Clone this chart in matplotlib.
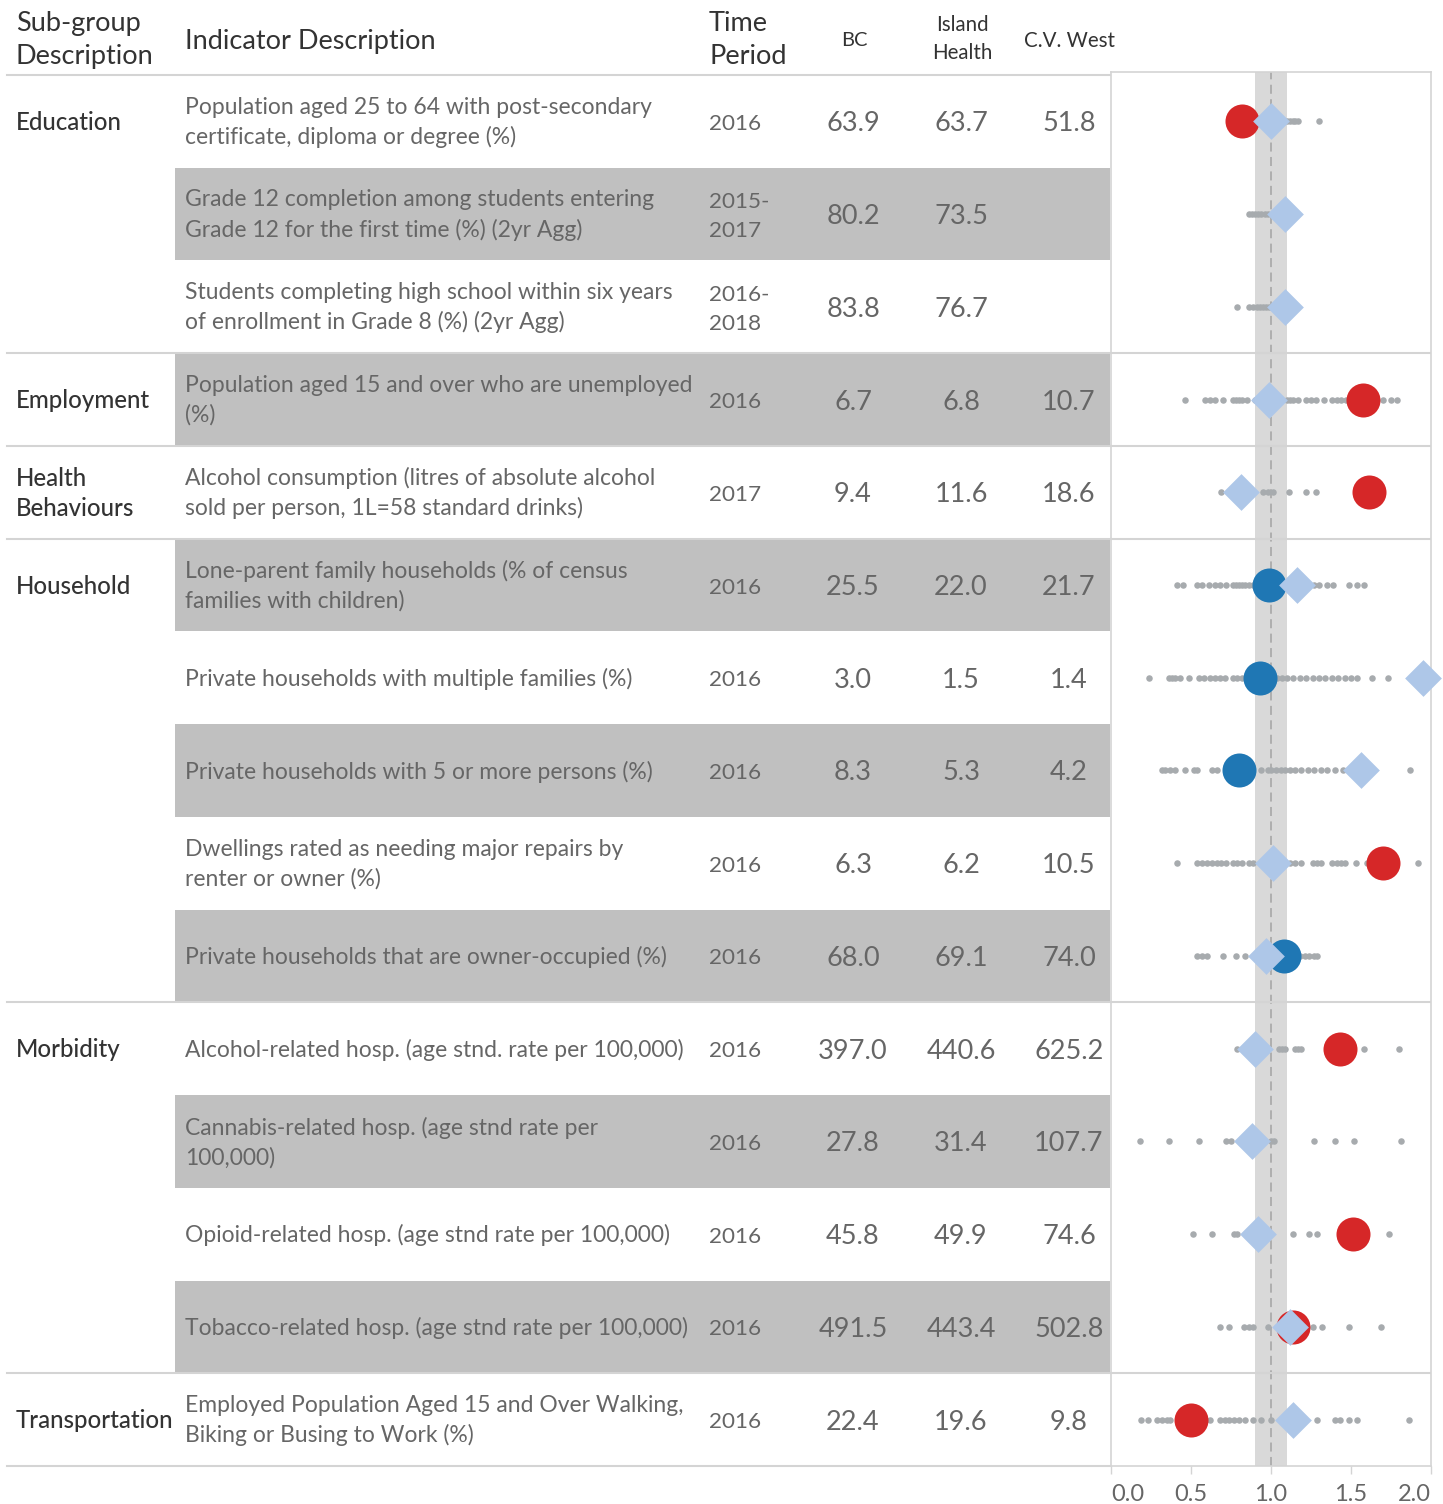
import numpy as np
import matplotlib
matplotlib.use("Agg")
import matplotlib.pyplot as plt

# ---------------- data ----------------
section_names = ["Education", "Employment", "Health\nBehaviours", "Household", "Morbidity", "Transportation"]
section_sizes = [3, 1, 1, 5, 4, 1]

indicators = [
    "Population aged 25 to 64 with post-secondary\ncertificate, diploma or degree (%)",
    "Grade 12 completion among students entering\nGrade 12 for the first time (%) (2yr Agg)",
    "Students completing high school within six years\nof enrollment in Grade 8 (%) (2yr Agg)",
    "Population aged 15 and over who are unemployed\n(%)",
    "Alcohol consumption (litres of absolute alcohol\nsold per person, 1L=58 standard drinks)",
    "Lone-parent family households (% of census\nfamilies with children)",
    "Private households with multiple families (%)",
    "Private households with 5 or more persons (%)",
    "Dwellings rated as needing major repairs by\nrenter or owner (%)",
    "Private households that are owner-occupied (%)",
    "Alcohol-related hosp. (age stnd. rate per 100,000)",
    "Cannabis-related hosp. (age stnd rate per\n100,000)",
    "Opioid-related hosp. (age stnd rate per 100,000)",
    "Tobacco-related hosp. (age stnd rate per 100,000)",
    "Employed Population Aged 15 and Over Walking,\nBiking or Busing to Work (%)",
]
periods = ["2016", "2015-\n2017", "2016-\n2018", "2016", "2017", "2016", "2016", "2016",
           "2016", "2016", "2016", "2016", "2016", "2016", "2016"]
bc_vals = [63.9, 80.2, 83.8, 6.7, 9.4, 25.5, 3.0, 8.3, 6.3, 68.0, 397.0, 27.8, 45.8, 491.5, 22.4]
ih_vals = [63.7, 73.5, 76.7, 6.8, 11.6, 22.0, 1.5, 5.3, 6.2, 69.1, 440.6, 31.4, 49.9, 443.4, 19.6]
cvw_vals = [51.8, np.nan, np.nan, 10.7, 18.6, 21.7, 1.4, 4.2, 10.5, 74.0, 625.2, 107.7, 74.6, 502.8, 9.8]

# ratios shown in the dot plot (relative to BC = 1.0)
ih_ratio = [1.00, 1.09, 1.09, 0.99, 0.81, 1.16, 1.95, 1.56, 1.01, 0.97, 0.90, 0.88, 0.92, 1.12, 1.14]
cvw_ratio = [0.82, np.nan, np.nan, 1.575, 1.61, 0.99, 0.93, 0.80, 1.70, 1.08, 1.43, np.nan, 1.51, 1.14, 0.50]
cvw_status = ["worse", None, None, "worse", "worse", "better", "better", "better", "worse",
              "better", "worse", None, "worse", "worse", "worse"]

other_ratios = [
    [0.85, 0.9, 0.95, 1.1, 1.12, 1.14, 1.15, 1.17, 1.3],
    [0.86, 0.88, 0.9, 0.92, 0.94, 0.96, 0.98],
    [0.79, 0.86, 0.89, 0.91, 0.93, 0.95, 0.97, 0.99],
    [0.46, 0.59, 0.62, 0.65, 0.70, 0.76, 0.78, 0.80, 0.82, 0.85, 0.9, 0.95, 1.0, 1.05, 1.10, 1.12,
     1.14, 1.17, 1.22, 1.25, 1.28, 1.33, 1.38, 1.41, 1.44, 1.47, 1.55, 1.70, 1.75, 1.79],
    [0.69, 0.75, 0.95, 0.98, 1.01, 1.11, 1.22, 1.28],
    [0.41, 0.45, 0.54, 0.57, 0.61, 0.65, 0.68, 0.72, 0.76, 0.78, 0.80, 0.82, 0.84, 0.86, 0.89, 0.93,
     1.05, 1.27, 1.30, 1.35, 1.39, 1.49, 1.54, 1.58],
    [0.24, 0.36, 0.38, 0.40, 0.43, 0.49, 0.55, 0.58, 0.62, 0.65, 0.68, 0.71, 0.76, 0.79, 0.82, 0.88,
     1.04, 1.07, 1.10, 1.14, 1.18, 1.22, 1.26, 1.30, 1.34, 1.38, 1.42, 1.46, 1.50, 1.54, 1.63, 1.73],
    [0.32, 0.34, 0.37, 0.40, 0.46, 0.52, 0.54, 0.63, 0.66, 0.72, 0.94, 0.98, 1.0, 1.03, 1.06, 1.09,
     1.12, 1.15, 1.19, 1.23, 1.27, 1.31, 1.35, 1.40, 1.45, 1.87],
    [0.41, 0.54, 0.57, 0.60, 0.63, 0.66, 0.69, 0.72, 0.76, 0.79, 0.82, 0.86, 0.89, 1.12, 1.15, 1.19,
     1.26, 1.29, 1.31, 1.38, 1.41, 1.44, 1.46, 1.53, 1.60, 1.92],
    [0.54, 0.57, 0.60, 0.70, 0.78, 0.84, 0.93, 1.0, 1.05, 1.18, 1.21, 1.24, 1.27, 1.29],
    [0.79, 0.88, 0.96, 1.05, 1.07, 1.09, 1.15, 1.17, 1.19, 1.58, 1.80],
    [0.18, 0.36, 0.55, 0.72, 0.75, 1.0, 1.02, 1.27, 1.40, 1.52, 1.81],
    [0.51, 0.63, 0.77, 0.79, 1.14, 1.24, 1.29, 1.74],
    [0.68, 0.74, 0.83, 0.86, 0.89, 0.98, 1.05, 1.26, 1.32, 1.49, 1.69],
    [0.19, 0.23, 0.29, 0.32, 0.35, 0.37, 0.55, 0.62, 0.68, 0.71, 0.74, 0.77, 0.80, 0.84, 0.89, 0.94,
     1.0, 1.29, 1.40, 1.43, 1.49, 1.54, 1.86],
]
x_ticks = [0.0, 0.5, 1.0, 1.5, 2.0]
band = (0.9, 1.1)

# ---------------- layout ----------------
W, H = 1443, 1504
FONT = "Lato"
plt.rcParams["font.family"] = [FONT, "DejaVu Sans"]

fig = plt.figure(figsize=(W / 100, H / 100), dpi=100)
ax = fig.add_axes([0, 0, 1, 1])
ax.set_xlim(0, W)
ax.set_ylim(H, 0)
ax.axis("off")

n = len(indicators)
top, bottom = 75.0, 1466.0
rh = (bottom - top) / n
row_c = [top + (i + 0.5) * rh for i in range(n)]
line_col = "#d4d4d4"
shade = "#c0c0c0"
txt_dark = "#333333"
txt_mid = "#666666"

# shading
for i in range(n):
    if i % 2 == 1:
        ax.add_patch(plt.Rectangle((175, top + i * rh), 1110 - 175, rh, color=shade, lw=0, zorder=0))

# horizontal lines (header, section dividers, bottom)
bounds = np.cumsum([0] + section_sizes)
ax.plot([7, 1110], [top, top], color=line_col, lw=1.5, zorder=1)
for b in bounds[1:]:
    y = top + b * rh
    ax.plot([7, 1110], [y, y], color=line_col, lw=1.5, zorder=1)

# headers
ax.text(16, 40, "Sub-group\nDescription", ha="left", va="center", fontsize=19.5, color=txt_dark, linespacing=1.42)
ax.text(185, 41, "Indicator Description", ha="left", va="center", fontsize=19.5, color=txt_dark)
ax.text(709, 40, "Time\nPeriod", ha="left", va="center", fontsize=19.5, color=txt_dark, linespacing=1.42)
ax.text(854, 41, "BC", ha="center", va="center", fontsize=14.5, color=txt_dark)
ax.text(962, 39, "Island\nHealth", ha="center", va="center", fontsize=14.8, color=txt_dark, linespacing=1.45)
ax.text(1070, 41, "C.V. West", ha="center", va="center", fontsize=14.8, color=txt_dark)

# sub-group labels
for name, b in zip(section_names, bounds[:-1]):
    ax.text(16, row_c[b] + 1, name, ha="left", va="center", fontsize=17.3, color=txt_dark,
            fontweight="medium", linespacing=1.38)

def fmt(v):
    return "" if np.isnan(v) else f"{v:.1f}"

for i in range(n):
    y = row_c[i]
    ax.text(185, y + 1, indicators[i], ha="left", va="center", fontsize=16.5, color=txt_mid, linespacing=1.45)
    ax.text(709, y + 2.5, periods[i], ha="left", va="center", fontsize=16.2, color=txt_mid, linespacing=1.6)
    ax.text(853, y + 2.5, fmt(bc_vals[i]), ha="center", va="center", fontsize=19.5, color=txt_mid)
    ax.text(961, y + 2.5, fmt(ih_vals[i]), ha="center", va="center", fontsize=19.5, color=txt_mid)
    ax.text(1069, y + 2.5, fmt(cvw_vals[i]), ha="center", va="center", fontsize=19.5, color=txt_mid)

# ---------------- dot plot ----------------
px0, px1, py0 = 1111, 1431, 72
axp = fig.add_axes([px0 / W, 1 - bottom / H, (px1 - px0) / W, (bottom - py0) / H])
axp.set_xlim(x_ticks[0], x_ticks[-1])
axp.set_ylim(bottom, py0)
axp.set_facecolor("none")
for s in axp.spines.values():
    s.set_color(line_col)
    s.set_linewidth(1.2)
axp.set_yticks([])
axp.set_xticks(x_ticks)
labels = axp.set_xticklabels([f"{t:.1f}" for t in x_ticks])
labels[0].set_horizontalalignment("left")
labels[-1].set_horizontalalignment("right")
axp.tick_params(axis="x", colors=line_col, length=6, width=1, labelcolor=txt_mid, labelsize=17, pad=7)

axp.axvspan(band[0], band[1], color="#d9d9d9", lw=0, zorder=0)
axp.axvline(1.0, color="#ababab", lw=1.3, ls=(0, (5, 3)), zorder=0.5)
for b in bounds[1:-1]:
    axp.axhline(top + b * rh, color=line_col, lw=1.5, zorder=0.6)

gx = np.concatenate([np.array(r) for r in other_ratios])
gy = np.concatenate([np.full(len(r), row_c[i]) for i, r in enumerate(other_ratios)])
axp.scatter(gx, gy, s=22, color="#a7abae", lw=0, zorder=2, clip_on=False)

col_map = {"worse": "#d62728", "better": "#1f77b4"}
for i in range(n):
    if cvw_status[i] is not None and not np.isnan(cvw_ratio[i]):
        axp.scatter([cvw_ratio[i]], [row_c[i]], s=600, color=col_map[cvw_status[i]], lw=0, zorder=3, clip_on=False)
axp.scatter(ih_ratio, row_c, s=350, marker="D", color="#aec7e8", lw=0, zorder=4, clip_on=False)

fig.savefig("out.png", dpi=100)
